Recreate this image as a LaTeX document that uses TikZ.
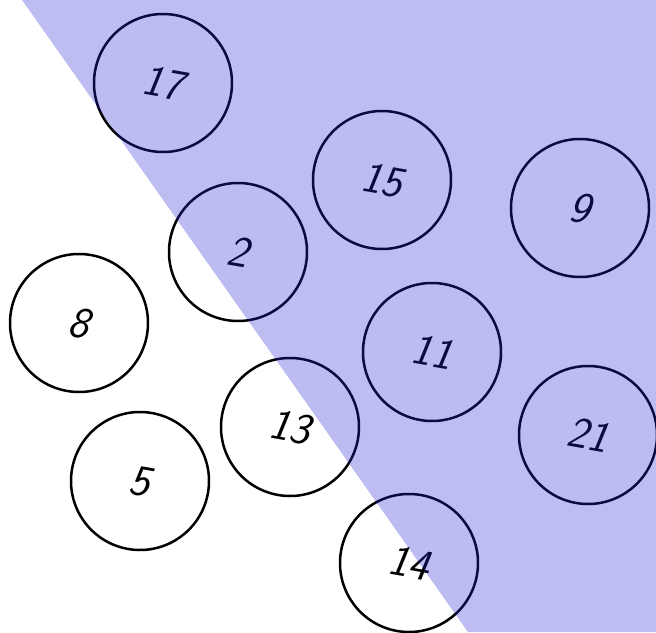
\documentclass[tikz,border=0pt]{standalone}
\begin{document}
\begin{tikzpicture}[x=1pt,y=-1pt,
  ball/.style={circle,draw=black,line width=2.5pt,fill=white,minimum size=138pt,inner sep=0pt,
    rotate=-10,font=\fontsize{44}{44}\selectfont\sffamily\itshape}]
\definecolor{bandblue}{RGB}{35,35,212}
\useasboundingbox (0,0) rectangle (656,632);
\foreach \n/\x/\y in {17/163/83, 15/382/180, 9/580/208, 2/238/252, 8/79/323, 11/432/352, 13/290/427, 21/588/435, 5/140/481, 14/409/563}{
  \node[ball] (c\n) at (\x,\y) {\n};
}
\fill[bandblue,opacity=0.3] (22,0) -- (656,0) -- (656,632) -- (468,632) -- cycle;
\end{tikzpicture}
\end{document}
